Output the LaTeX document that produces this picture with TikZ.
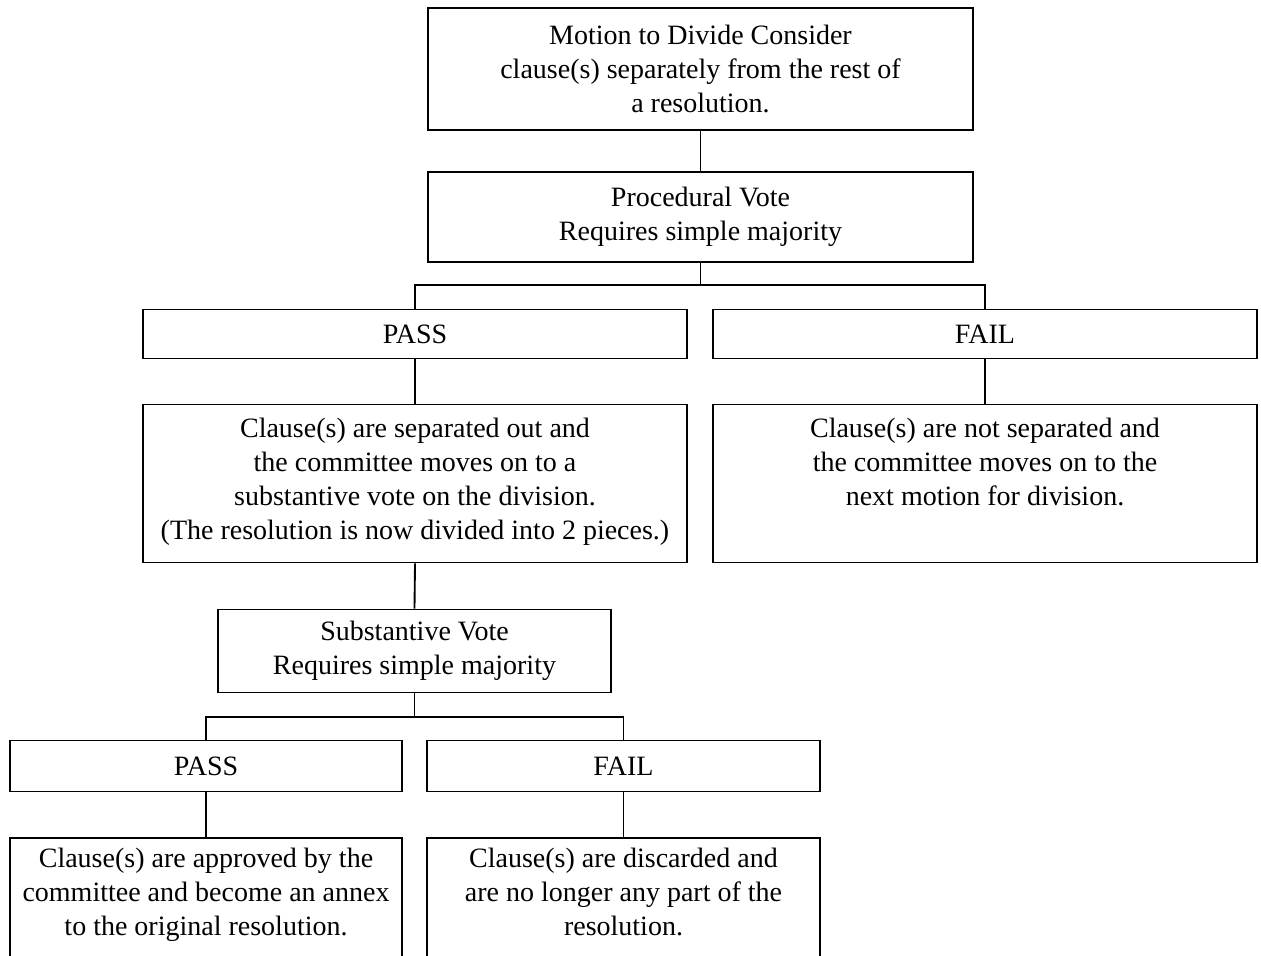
\documentclass[tikz,border=0pt]{standalone}
\usepackage{fontspec}
\setmainfont{Liberation Serif}
\begin{document}
\begin{tikzpicture}[x=0.75pt,y=-0.75pt,
  box/.style={draw=black, line width=1.4pt, rectangle, inner sep=0pt, align=center,
    font=\fontsize{21pt}{25.5pt}\selectfont},
  link/.style={draw=black, line width=1.4pt}]
\useasboundingbox (0,0) rectangle (1261,956);
\clip (0,0) rectangle (1261,956);
\node[box, minimum width=545*0.75pt, minimum height=122*0.75pt] (m1) at (700.5,69)
  {Motion to Divide Consider\\clause(s) separately from the rest of\\a resolution.};
\node[box, minimum width=545*0.75pt, minimum height=90*0.75pt] (pv) at (700.5,217)
  {Procedural Vote\\Requires simple majority};
\node[box, minimum width=544*0.75pt, minimum height=49*0.75pt] (p1) at (415,334) {PASS};
\node[box, minimum width=544*0.75pt, minimum height=49*0.75pt] (f1) at (985,334) {FAIL};
\node[box, minimum width=544*0.75pt, minimum height=158*0.75pt] (pr) at (415,483.5)
  {Clause(s) are separated out and\\the committee moves on to a\\substantive vote on the division.\\(The resolution is now divided into 2 pieces.)\strut};
\node[box, minimum width=544*0.75pt, minimum height=158*0.75pt] (fr) at (985,483.5)
  {Clause(s) are not separated and\\the committee moves on to the\\next motion for division.\\\strut};
\node[box, minimum width=393*0.75pt, minimum height=83*0.75pt] (sv) at (414.5,651)
  {Substantive Vote\\Requires simple majority};
\node[box, minimum width=392*0.75pt, minimum height=51*0.75pt] (p2) at (206,766) {PASS};
\node[box, minimum width=393*0.75pt, minimum height=51*0.75pt] (f2) at (623.5,766) {FAIL};
\node[box, minimum width=392*0.75pt, minimum height=152*0.75pt] (pr2) at (206,914)
  {Clause(s) are approved by the\\committee and become an annex\\to the original resolution.\\\strut};
\node[box, minimum width=393*0.75pt, minimum height=152*0.75pt] (fr2) at (623.5,914)
  {Clause(s) are discarded and\\are no longer any part of the\\resolution.\\\strut};
\coordinate (b1) at (700.5,285);
\coordinate (b2) at (414.5,717);
\draw[link] (m1.south) -- (pv.north);
\draw[link] (pv.south) -- (b1);
\draw[link] (p1.north) |- (b1) -| (f1.north);
\draw[link] (p1.south) -- (pr.north);
\draw[link] (f1.south) -- (fr.north);
\draw[link] (pr.south) -- (sv.north);
\draw[link] (sv.south) -- (b2);
\draw[link] (p2.north) |- (b2) -| (f2.north);
\draw[link] (p2.south) -- (pr2.north);
\draw[link] (f2.south) -- (fr2.north);
\end{tikzpicture}
\end{document}
